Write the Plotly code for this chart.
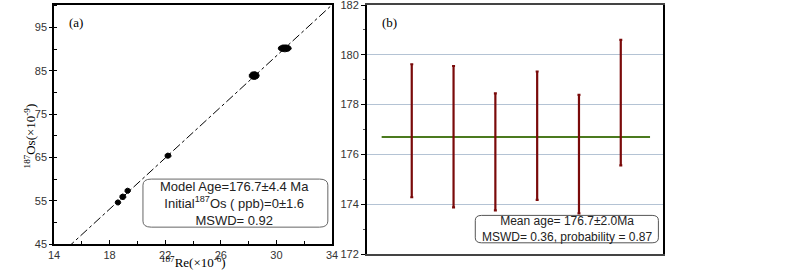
import numpy as np
import plotly.graph_objects as go

# ---- panel (a) data: isochron ----
re187 = [18.6, 18.95, 19.3, 22.2, 28.4, 30.6]
os187 = [54.6, 55.9, 57.3, 65.4, 83.9, 90.2]
re_err = [0.2, 0.22, 0.2, 0.22, 0.36, 0.47]
os_err = [0.6, 0.65, 0.6, 0.6, 0.9, 0.8]
model_age = 176.7
decay_const = 1.666e-11
x_ticks_a = [14, 18, 22, 26, 30, 34]
y_ticks_a = [45, 55, 65, 75, 85, 95]

# ---- panel (b) data: weighted mean ages ----
sample_idx = [1, 2, 3, 4, 5, 6]
ages = [176.95, 176.71, 176.10, 176.75, 176.01, 178.08]
age_err = [2.67, 2.84, 2.35, 2.58, 2.38, 2.52]
mean_age = 176.7
mean_span = [0.28, 6.7]
y_ticks_b = [172, 174, 176, 178, 180, 182]

fig = go.Figure()

# isochron line
slope = (np.exp(decay_const * model_age * 1e6) - 1) * 1000
lx = np.array([14, 34])
fig.add_trace(go.Scatter(x=lx, y=slope * lx, mode="lines",
                         line=dict(color="black", width=1, dash="dashdot"),
                         xaxis="x", yaxis="y", showlegend=False, hoverinfo="skip"))

# ellipses
t = np.linspace(0, 2 * np.pi, 60)
for cx, cy, ex, ey in zip(re187, os187, re_err, os_err):
    fig.add_trace(go.Scatter(x=cx + ex * np.cos(t), y=cy + ey * np.sin(t),
                             mode="lines", fill="toself", fillcolor="black",
                             line=dict(color="black", width=1),
                             xaxis="x", yaxis="y", showlegend=False, hoverinfo="skip"))

# panel b: mean line
fig.add_trace(go.Scatter(x=mean_span, y=[mean_age, mean_age], mode="lines",
                         line=dict(color="#4b7a1e", width=2),
                         xaxis="x2", yaxis="y2", showlegend=False))
# error bars
fig.add_trace(go.Scatter(x=sample_idx, y=ages, mode="markers",
                         marker=dict(size=1, color="#7a0a0a"),
                         error_y=dict(type="data", array=age_err, color="#7a0a0a",
                                      thickness=2.2, width=1.5),
                         xaxis="x2", yaxis="y2", showlegend=False))

tickfont = dict(family="Liberation Sans, Arial", size=11, color="#333")

fig.update_layout(
    width=800, height=270,
    margin=dict(l=54, r=137, t=5, b=16, autoexpand=False),
    paper_bgcolor="white", plot_bgcolor="white",
    xaxis=dict(domain=[0, 0.4565], range=[14, 34], tickvals=x_ticks_a,
               ticks="inside", ticklen=4, tickcolor="black", automargin=False,
               minor=dict(dtick=2, ticks="inside", ticklen=3, tickcolor="black"),
               showline=True, linecolor="black", linewidth=1.5, mirror=True,
               showgrid=False, zeroline=False, tickfont=tickfont, anchor="y"),
    yaxis=dict(domain=[0.04, 1], range=[45, 100.2], tickvals=y_ticks_a,
               ticks="outside", ticklen=3, tickcolor="black", automargin=False,
               minor=dict(dtick=5, ticks="inside", ticklen=3, tickcolor="black"),
               showline=True, linecolor="black", linewidth=1.5, mirror=True,
               showgrid=False, zeroline=False, tickfont=tickfont, anchor="x"),
    xaxis2=dict(domain=[0.514, 1], range=[-0.07, 7.01], showticklabels=False,
                ticks="", showline=True, linecolor="#444", linewidth=1.5, mirror=True,
                showgrid=False, zeroline=False, anchor="y2", automargin=False),
    yaxis2=dict(domain=[0, 1], range=[172, 182], tickvals=y_ticks_b,
                ticks="outside", ticklen=4, tickcolor="black", automargin=False,
                ticklabeloverflow="allow",
                minor=dict(dtick=1, ticks="outside", ticklen=2, tickcolor="#555", showgrid=False),
                showline=True, linecolor="black", linewidth=2, mirror=True,
                showgrid=True, gridcolor="#b4c3d4", gridwidth=1,
                zeroline=False, tickfont=tickfont, anchor="x2"),
)

serif = dict(family="Liberation Serif, Times New Roman", size=13, color="black")
sans = dict(family="Liberation Sans, Arial", size=13, color="#222")


def rounded_rect(x0, x1, y0, y1, rx, ry):
    return (f"M {x0+rx},{y0} L {x1-rx},{y0} Q {x1},{y0} {x1},{y0+ry} "
            f"L {x1},{y1-ry} Q {x1},{y1} {x1-rx},{y1} L {x0+rx},{y1} "
            f"Q {x0},{y1} {x0},{y1-ry} L {x0},{y0+ry} Q {x0},{y0} {x0+rx},{y0} Z")


fig.add_annotation(text="(a)", xref="paper", yref="paper", x=0.022, y=0.93,
                   xanchor="left", yanchor="middle", showarrow=False,
                   font=dict(family="Liberation Serif", size=13, color="black"))
fig.add_annotation(text="(b)", xref="paper", yref="paper", x=0.536, y=0.93,
                   xanchor="left", yanchor="middle", showarrow=False,
                   font=dict(family="Liberation Serif", size=13, color="black"))
fig.add_annotation(text="<sup>187</sup>Re(×10<sup>-6</sup>)", xref="x", yref="paper",
                   x=24, y=0.0, yshift=2, xanchor="center", yanchor="top", showarrow=False,
                   font=serif, bgcolor="rgba(0,0,0,0)")
fig.add_annotation(text="<sup>187</sup>Os(×10<sup>-9</sup>)", xref="paper", yref="y",
                   x=-0.04, y=70, textangle=-90, xanchor="center", yanchor="middle",
                   showarrow=False, font=serif)
fig.add_shape(type="path", xref="x", yref="y",
              path=rounded_rect(20.4, 33.7, 48.9, 60.0, 0.6, 1.4),
              line=dict(color="#666", width=1), fillcolor="rgba(0,0,0,0)")
fig.add_annotation(text="Model Age=176.7±4.4 Ma<br>Initial<sup>187</sup>Os ( ppb)=0±1.6<br>MSWD= 0.92",
                   xref="x", yref="y", x=27.0, y=54.4, xanchor="center", yanchor="middle",
                   showarrow=False, font=sans, align="center")
fig.add_shape(type="path", xref="x2", yref="y2",
              path=rounded_rect(2.52, 6.9, 172.45, 173.55, 0.15, 0.2),
              line=dict(color="#555", width=1), fillcolor="white", layer="above")
fig.add_annotation(text="Mean age= 176.7±2.0Ma<br>MSWD= 0.36, probability = 0.87",
                   xref="x2", yref="y2", x=4.71, y=173.0, xanchor="center", yanchor="middle",
                   showarrow=False, font=dict(family="Liberation Sans, Arial", size=12, color="#222"),
                   align="center")

fig.write_html("out.html", config={"displayModeBar": False},
               post_script="document.body.style.margin='0';")
